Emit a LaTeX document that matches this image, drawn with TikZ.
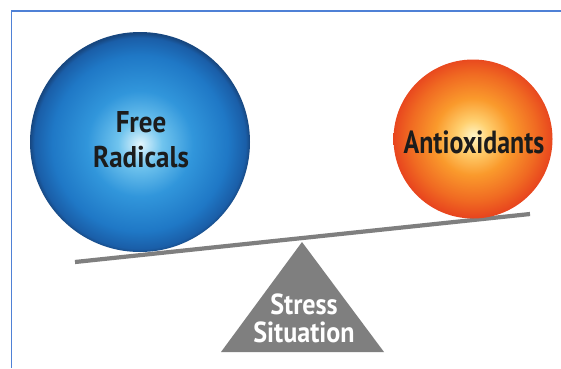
\documentclass[tikz,border=0pt]{standalone}
\usepackage{fontspec}
\setmainfont{PT Sans}[FakeStretch=0.9]
\newfontfamily\aofont{PT Sans}[FakeStretch=0.81]
\usetikzlibrary{calc}
\definecolor{frameblue}{HTML}{4F81D6}
\definecolor{beamgray}{HTML}{7F7F7F}
\definecolor{txtdark}{HTML}{1C1C1C}
\definecolor{bA}{HTML}{E4F6FD}
\definecolor{bB}{HTML}{70C4EE}
\definecolor{bC}{HTML}{3196DB}
\definecolor{bD}{HTML}{1F78C6}
\definecolor{bE}{HTML}{1A5EA8}
\definecolor{bF}{HTML}{174780}
\definecolor{oA}{HTML}{FFF6C8}
\definecolor{oB}{HTML}{FFD070}
\definecolor{oC}{HTML}{FA9A2C}
\definecolor{oD}{HTML}{F06A22}
\definecolor{oE}{HTML}{E8461E}
\pgfdeclareradialshading{blueball}{\pgfpoint{0bp}{-0.5bp}}{%
  color(0bp)=(bA);
  color(5bp)=(bB);
  color(12bp)=(bC);
  color(20bp)=(bD);
  color(24bp)=(bE);
  color(25bp)=(bF);
  color(50bp)=(bF)}
\pgfdeclareradialshading{orangeball}{\pgfpoint{0bp}{1bp}}{%
  color(0bp)=(oA);
  color(5bp)=(oB);
  color(12bp)=(oC);
  color(20bp)=(oD);
  color(25bp)=(oE);
  color(50bp)=(oE)}
\tikzset{
  balltext/.style={text=txtdark, align=center, inner sep=0pt},
  pivottext/.style={text=white, align=center, inner sep=0pt},
}
\begin{document}
\begin{tikzpicture}[x=1pt,y=-1pt]
\useasboundingbox (0,0) rectangle (561,368);
\fill[white] (0,0) rectangle (561,368);
\draw[frameblue, line width=1.5pt] (11.5,368) -- (11.5,11) -- (561,11);
% pivot
\coordinate (apex) at (302,242);
\coordinate (bl) at (221,352);
\coordinate (br) at (384,352);
\fill[beamgray] (apex) -- (bl) -- (br) -- cycle;
% beam
\coordinate (beamL) at (75,262);
\coordinate (beamR) at (530,214);
\draw[beamgray, line width=4.2pt] (beamL) -- (beamR);
% balls
\shade[shading=blueball] (140,142) circle (110);
\shade[shading=orangeball] (473,139) circle (79.5);
\node[balltext, font=\fontsize{30}{35}\selectfont\bfseries] (fr) at (141,140) {Free\\Radicals};
\node[balltext, font=\fontsize{32}{36}\selectfont\aofont\bfseries] (ao) at (474,142) {Antioxidants};
\node[pivottext, font=\fontsize{29}{28}\selectfont\bfseries] (ss) at (304,318) {Stress\\Situation};
\end{tikzpicture}
\end{document}
